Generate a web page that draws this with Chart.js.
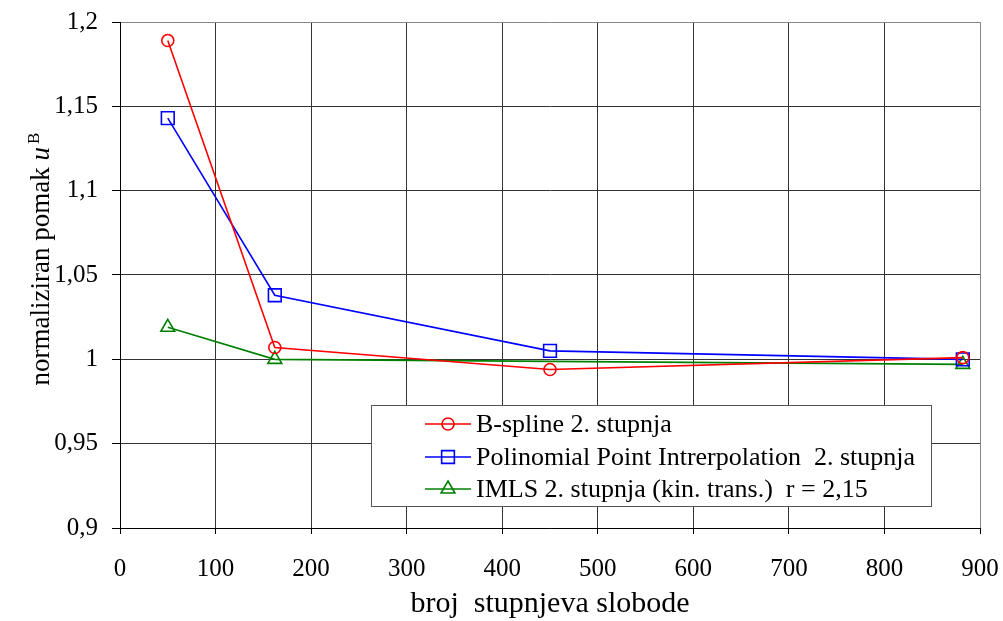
<!DOCTYPE html>
<html>
<head>
<meta charset="utf-8">
<script src="https://cdn.jsdelivr.net/npm/chart.js@4"></script>
<style>
html,body{margin:0;padding:0;background:#fff;}
#wrap{width:1003px;height:621px;position:relative;}
</style>
</head>
<body>
<div id="wrap"><canvas id="c" width="1003" height="621"></canvas></div>
<script>
const xValues = [50, 162, 450, 882];
const xValuesImls = [50, 162, 882];
const bsplineValues = [1.189, 1.007, 0.994, 1.001];
const ppiValues = [1.143, 1.038, 1.005, 1.000];
const imlsValues = [1.019, 1.000, 0.997];
const seriesLabels = ['B-spline 2. stupnja', 'Polinomial Point Intrerpolation  2. stupnja', 'IMLS 2. stupnja (kin. trans.)  r = 2,15'];
const xTitle = 'broj  stupnjeva slobode';
const yTitleMain = 'normaliziran pomak ';
const yTitleVar = 'u';
const yTitleSup = 'B';

const FONT = '"Liberation Serif", "Times New Roman", serif';

function pts(xs, ys){ return xs.map((x,i)=>({x:x, y:ys[i]})); }

const datasets = [
  {label: seriesLabels[0], data: pts(xValues, bsplineValues), borderColor:'#ff0000', pointStyle:'circle', pointRadius:6},
  {label: seriesLabels[1], data: pts(xValues, ppiValues), borderColor:'#0000ff', pointStyle:'rect', pointRadius:9},
  {label: seriesLabels[2], data: pts(xValuesImls, imlsValues), borderColor:'#008000', pointStyle:'triangle', pointRadius:8}
].map(d=>Object.assign(d,{
  borderWidth:1.6, pointBorderColor:d.borderColor, pointBackgroundColor:'rgba(0,0,0,0)',
  pointBorderWidth:1.6, pointHoverRadius:d.pointRadius, tension:0, fill:false
}));

const overlay = {
  id:'overlay',
  afterDraw(chart){
    const ctx = chart.ctx;
    const ca = chart.chartArea;
    // y title
    ctx.save();
    ctx.fillStyle = '#000';
    ctx.translate(49, 259);
    ctx.rotate(-Math.PI/2);
    const fMain = '27px ' + FONT, fIt = 'italic 27px ' + FONT, fSup = '17px ' + FONT;
    ctx.font = fMain; const w1 = ctx.measureText(yTitleMain).width;
    ctx.font = fIt; const w2 = ctx.measureText(yTitleVar).width;
    ctx.font = fSup; const w3 = ctx.measureText(yTitleSup).width;
    let sx = -(w1+w2+w3+3)/2;
    ctx.textBaseline = 'alphabetic'; ctx.textAlign = 'left';
    ctx.font = fMain; ctx.fillText(yTitleMain, sx, 0); sx += w1;
    ctx.font = fIt; ctx.fillText(yTitleVar, sx, 0); sx += w2 + 3;
    ctx.font = fSup; ctx.fillText(yTitleSup, sx, -10);
    ctx.restore();

    // x title
    ctx.save();
    ctx.fillStyle = '#000';
    ctx.font = '30px ' + FONT;
    ctx.textAlign = 'center'; ctx.textBaseline = 'middle';
    ctx.fillText(xTitle, (ca.left+ca.right)/2, 604);
    ctx.restore();

    // legend box
    ctx.save();
    const bx = 371.5, by = 405.5, bw = 560, bh = 101;
    ctx.fillStyle = '#fff';
    ctx.fillRect(bx, by, bw, bh);
    ctx.strokeStyle = '#555'; ctx.lineWidth = 1;
    ctx.strokeRect(bx, by, bw, bh);
    const rows = [424, 457, 489];
    chart.data.datasets.forEach((d,i)=>{
      const y = rows[i];
      ctx.strokeStyle = d.borderColor; ctx.lineWidth = d.borderWidth;
      ctx.beginPath(); ctx.moveTo(425, y); ctx.lineTo(471, y); ctx.stroke();
      ctx.fillStyle = 'rgba(0,0,0,0)';
      ctx.strokeStyle = d.borderColor; ctx.lineWidth = d.pointBorderWidth;
      Chart.helpers.drawPoint(ctx, {pointStyle:d.pointStyle, radius:d.pointRadius, borderWidth:d.pointBorderWidth, rotation:0}, 448, y);
      ctx.fillStyle = '#000';
      ctx.font = '26px ' + FONT;
      ctx.textAlign = 'left'; ctx.textBaseline = 'middle';
      ctx.fillText(d.label, 476, y + 1);
    });
    ctx.restore();
  }
};

function fmt(v){ return String(Number(v.toFixed(2))).replace('.', ','); }

new Chart(document.getElementById('c'), {
  type:'line',
  data:{datasets:datasets},
  options:{
    responsive:false, animation:false, devicePixelRatio:1,
    layout:{padding:{left:0, top:22, right:23, bottom:0}},
    plugins:{legend:{display:false}, tooltip:{enabled:false}, title:{display:false}},
    scales:{
      x:{type:'linear', min:0, max:900,
        afterFit(s){ s.height = 93; s.paddingLeft = 0; s.paddingRight = 0; },
        ticks:{stepSize:100, color:'#000', font:{family:FONT, size:25}, padding:20, maxRotation:0, autoSkip:false, callback:v=>String(v)},
        grid:{color:c=> (c.tick && c.tick.value===900) ? '#888' : '#333', lineWidth:1, tickLength:6, tickColor:'#000'},
        border:{color:'#000', width:1}
      },
      y:{type:'linear', min:0.9, max:1.2,
        afterFit(s){ s.width = 120; s.paddingTop = 0; s.paddingBottom = 0; },
        ticks:{stepSize:0.05, color:'#000', font:{family:FONT, size:25}, padding:14, autoSkip:false, callback:v=>fmt(v)},
        grid:{color:c=> (c.tick && Math.abs(c.tick.value-1.2)<1e-6) ? '#888' : '#333', lineWidth:1, tickLength:8, tickColor:'#000'},
        border:{color:'#000', width:1}
      }
    }
  },
  plugins:[overlay]
});
</script>
</body>
</html>
